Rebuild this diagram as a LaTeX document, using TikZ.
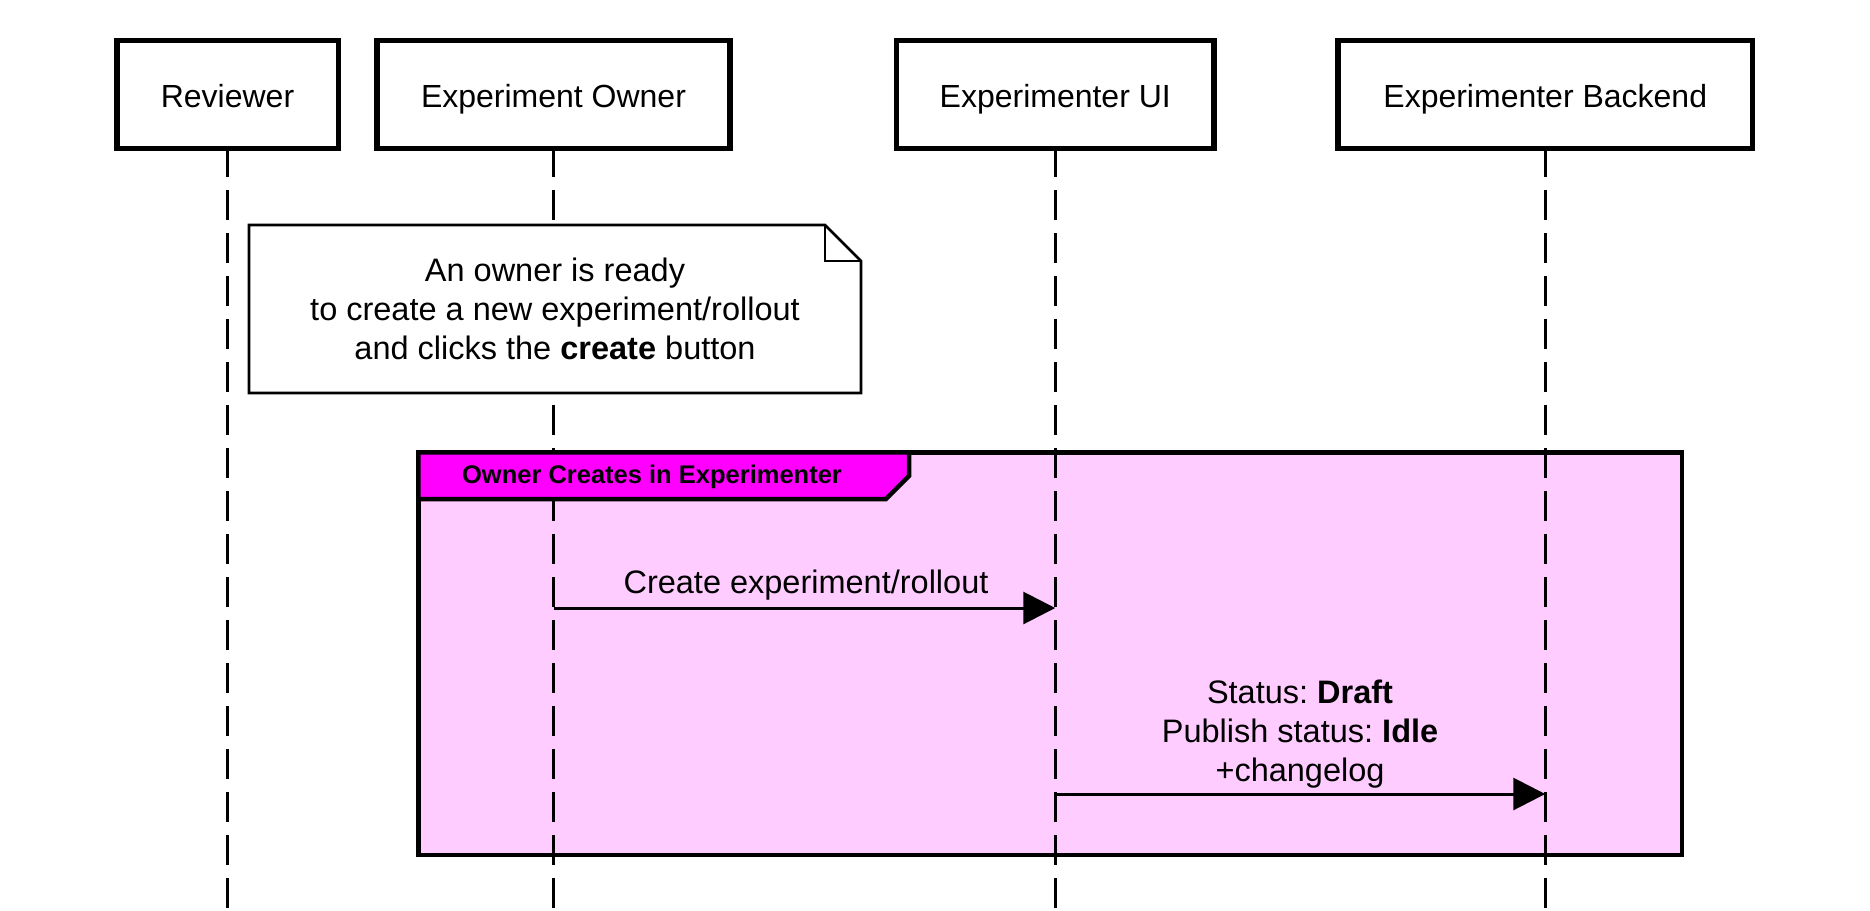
\documentclass[tikz,border=0pt]{standalone}
\usepackage{fontspec}
\setmainfont{Liberation Sans}
\usetikzlibrary{arrows.meta}
\definecolor{grpfill}{RGB}{255,204,255}
\definecolor{tabfill}{RGB}{255,0,255}
\frenchspacing
\begin{document}
\begin{tikzpicture}[x=1pt,y=-1pt,
  participant/.style={draw=black, line width=5.5pt, fill=white, inner sep=0pt,
    minimum height=107.8pt, text height=26.7pt, text depth=0pt,
    font=\fontsize{32}{39}\selectfont},
  lifeline/.style={line width=3pt, dash pattern=on 30pt off 13pt, dash phase=4pt},
  msgline/.style={line width=3pt, -{Triangle[length=32pt,width=32pt]}},
  msglabel/.style={font=\fontsize{32.5}{39}\selectfont, align=center, inner sep=0pt},
  notebox/.style={draw=black, line width=2.7pt, fill=white, line join=miter},
  foldline/.style={draw=black, line width=2.7pt},
  groupbox/.style={draw=black, line width=4.5pt, fill=grpfill},
  grouptab/.style={draw=black, line width=4.5pt, fill=tabfill, line join=miter},
  grouptitle/.style={font=\fontsize{25.5}{30}\selectfont\bfseries, inner sep=0pt}
]
\useasboundingbox (0,0) rectangle (1870,910);

% group frame (background)
\draw[groupbox] (418.25,452.25) rectangle (1681.75,854.75);

% participants
\node[participant, minimum width=221.5pt] (rev) at (227.5,94.35) {Reviewer};
\node[participant, minimum width=353.2pt] (own) at (553.5,94.35) {Experiment Owner};
\node[participant, minimum width=317.9pt] (ui) at (1055.25,94.35) {Experimenter UI};
\node[participant, minimum width=414.5pt] (back) at (1545.25,94.35) {Experimenter Backend};

% lifeline ends
\coordinate (revEnd) at (227.5,910);
\coordinate (ownEnd) at (553.5,910);
\coordinate (uiEnd) at (1055.25,910);
\coordinate (backEnd) at (1545.25,910);

\draw[lifeline] (rev.south) -- (revEnd);
\draw[lifeline] (own.south) -- (ownEnd);
\draw[lifeline] (ui.south) -- (uiEnd);
\draw[lifeline] (back.south) -- (backEnd);

% group tab (over the lifelines)
\draw[grouptab] (418.25,452.25) -- (909,452.25) -- (909,476) -- (886,499) -- (418.25,499) -- cycle;
\node[grouptitle, anchor=base] (gtitle) at (652,483.3) {Owner Creates in Experimenter};

% note
\draw[notebox] (249,225) -- (825,225) -- (861,261) -- (861,393) -- (249,393) -- cycle;
\draw[foldline] (825,225) -- (825,261) -- (861,261);
\node[msglabel] (note) at (555,308.7) {An owner is ready\\to create a new experiment/rollout\\and clicks the \textbf{create} button};

% messages
\coordinate (m1s) at (553.5,608);
\coordinate (m1e) at (1055.25,608);
\draw[msgline] (m1s) -- (m1e);
\node[msglabel, anchor=base] (l1) at (806,593) {Create experiment/rollout};

\coordinate (m2s) at (1055.25,794);
\coordinate (m2e) at (1545.25,794);
\draw[msgline] (m2s) -- (m2e);
\node[msglabel] (l2) at (1300,733.9) {Status: \textbf{Draft}\\Publish status: \textbf{Idle}\\+changelog};
\end{tikzpicture}
\end{document}
